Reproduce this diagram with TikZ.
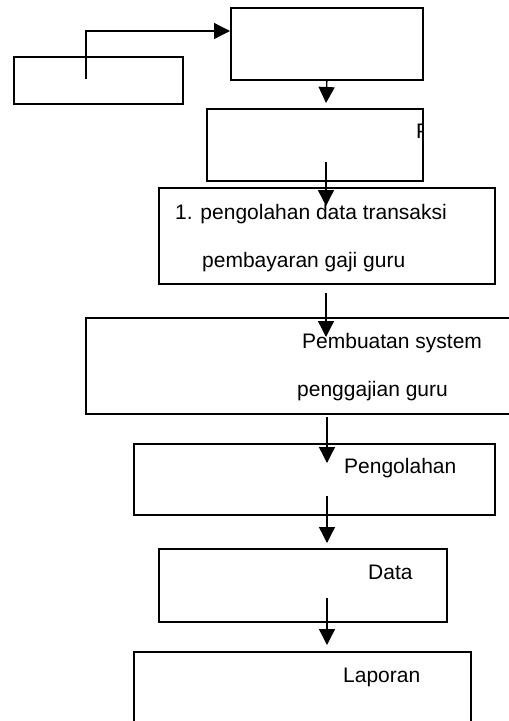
\documentclass[tikz,border=0pt]{standalone}
\usepackage{fontspec}
\setmainfont{Liberation Sans}
\usetikzlibrary{arrows.meta}
\begin{document}
\begin{tikzpicture}[x=1pt,y=-1pt,
  box/.style={draw=black,line width=1.8pt,rectangle,inner sep=0pt,anchor=north west},
  arr/.style={draw=black,line width=1.3pt,-{Triangle[length=16pt,width=16pt]}},
  lbl/.style={inner sep=0pt,anchor=base west,font=\fontsize{21}{25}\selectfont}]
\useasboundingbox (0,0) rectangle (509,721);
\clip (0,0) rectangle (509,721);
\fill[white] (0,0) rectangle (509,721);
% boxes
\node[box,minimum width=169pt,minimum height=47pt] (A) at (13,56) {};
\node[box,minimum width=192pt,minimum height=72pt] (B) at (230,7) {};
\node[box,minimum width=216pt,minimum height=72pt] (C) at (206,108) {};
\node[box,minimum width=336pt,minimum height=96pt] (D) at (158,187) {};
\node[box,minimum width=440pt,minimum height=96pt] (E) at (85,317) {};
\node[box,minimum width=361pt,minimum height=71pt] (F) at (133,443) {};
\node[box,minimum width=288pt,minimum height=73pt] (G) at (158,548) {};
\node[box,minimum width=337pt,minimum height=90pt] (H) at (133,651) {};
% texts
\begin{scope}
\clip (C.north west) rectangle (C.south east);
\node[lbl] (tC) at (416,138) {P};
\end{scope}
\node[lbl] (tD1) at (175,219) {1. pengolahan data transaksi};
\node[lbl] (tD2) at (202,267) {pembayaran gaji guru};
\node[lbl] (tE1) at (302,348) {Pembuatan system};
\node[lbl] (tE2) at (297,396) {penggajian guru};
\node[lbl] (tF) at (344,473) {Pengolahan};
\node[lbl] (tG) at (368,579) {Data};
\node[lbl] (tH) at (343,682) {Laporan};
% connector points
\coordinate (a0) at (86,79);
\coordinate (a1) at (86,31);
\coordinate (b1) at (326,103);
\coordinate (c0) at (326,162);
\coordinate (c1) at (326,206);
\coordinate (d0) at (326,293);
\coordinate (d1) at (326,337);
\coordinate (e0) at (327,417);
\coordinate (e1) at (327,463);
\coordinate (f0) at (327,496);
\coordinate (f1) at (327,543);
\coordinate (g0) at (327,598);
\coordinate (g1) at (327,645);
% connectors
\draw[arr] (a0) -- (a1) -- (a1 -| B.west);
\draw[arr] (B.south) -- (b1);
\draw[arr] (c0) -- (c1);
\draw[arr] (d0) -- (d1);
\draw[arr] (e0) -- (e1);
\draw[arr] (f0) -- (f1);
\draw[arr] (g0) -- (g1);
\end{tikzpicture}
\end{document}
